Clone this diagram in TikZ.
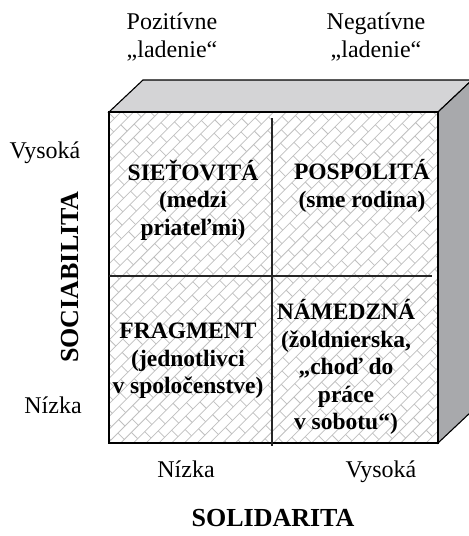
\documentclass[tikz,border=0pt]{standalone}
\usepackage{fontspec}
\setmainfont{Liberation Serif}
\definecolor{topgray}{RGB}{212,212,214}
\definecolor{sidegray}{RGB}{168,169,172}
\definecolor{patgray}{RGB}{192,192,192}
\begin{document}
\begin{tikzpicture}[x=1pt,y=-1pt,
  lbl/.style={font=\fontsize{24}{28}\selectfont, align=center, inner sep=0pt},
  qtxt/.style={font=\fontsize{23.5}{27.5}\selectfont\bfseries, align=center, inner sep=0pt},
  axis/.style={font=\fontsize{26}{28}\selectfont\bfseries, inner sep=0pt},
  edge/.style={draw=black, line width=1.1pt},
  divider/.style={draw=black!85, line width=1.1pt},
  pat/.style={draw=patgray, line width=0.75pt}]
\useasboundingbox (0,0) rectangle (469,536);
\fill[white] (0,0) rectangle (469,536);
% box corners
\coordinate (fl) at (109,112);
\coordinate (fr) at (438,112);
\coordinate (bl) at (109,443);
\coordinate (br) at (438,443);
\coordinate (tbl) at (143,80);
\coordinate (tbr) at (472,80);
\coordinate (sbr) at (472,411);
% top and side faces
\filldraw[fill=topgray, edge] (fl) -- (tbl) -- (tbr) -- (fr) -- cycle;
\filldraw[fill=sidegray, edge] (fr) -- (tbr) -- (sbr) -- (br) -- cycle;
% front face with brick pattern
\fill[white] (fl) rectangle (br);
\begin{scope}
  \clip (fl) rectangle (br);
  \begin{scope}[shift={(273.5,277.5)}, rotate=45]
    \foreach \j in {-14,...,14} {
      \draw[pat] (-260,18*\j) -- (260,18*\j);
      \draw[pat] (-260,18*\j+9) -- (260,18*\j+9);
      \foreach \k in {-13,...,13} {
        \draw[pat] (20*\k,18*\j) -- (20*\k,18*\j+9);
        \draw[pat] (20*\k+10,18*\j+9) -- (20*\k+10,18*\j+18);
      }
    }
  \end{scope}
\end{scope}
\draw[edge] (fl) rectangle (br);
% dividers
\coordinate (vt) at (272,118);
\coordinate (vb) at (272,446);
\coordinate (hl) at (109,276);
\coordinate (hr) at (432,276);
\draw[divider] (vt) -- (vb);
\draw[divider] (hl) -- (hr);
% quadrant texts
\node[qtxt] (q1) at (193,200) {SIEŤOVITÁ\\(medzi\\priateľmi)};
\node[qtxt] (q2) at (362,186) {POSPOLITÁ\\(sme rodina)};
\node[qtxt] (q3) at (188,361) {FRAGMENT\\(jednotlivci\\v spoločenstve)};
\node[qtxt] (q4) at (346,367) {NÁMEDZNÁ\\(žoldnierska,\\„choď do\\práce\\v sobotu“)};
% labels
\node[lbl] (pos) at (172,37) {Pozitívne\\„ladenie“};
\node[lbl] (neg) at (376,37) {Negatívne\\„ladenie“};
\node[lbl, anchor=base] (vysl) at (45,158) {Vysoká};
\node[lbl, anchor=base] (nizl) at (53,413) {Nízka};
\node[axis, rotate=90] (soc) at (70,277) {SOCIABILITA};
\node[lbl, anchor=base] (nizb) at (186,477) {Nízka};
\node[lbl, anchor=base] (vysb) at (381,477) {Vysoká};
\node[axis] (sol) at (273,518) {SOLIDARITA};
\end{tikzpicture}
\end{document}
